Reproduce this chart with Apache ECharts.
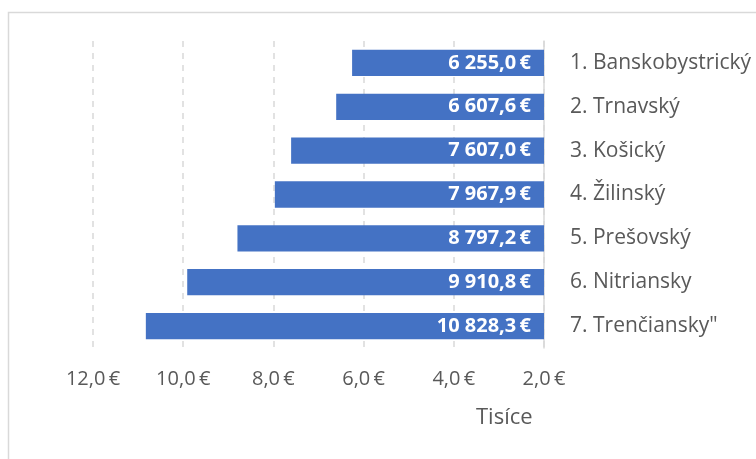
<!DOCTYPE html>
<html><head><meta charset="utf-8">
<script src="https://cdn.jsdelivr.net/npm/echarts@6/dist/echarts.min.js"></script>
<style>html,body{margin:0;padding:0;background:#fff}#c{width:756px;height:459px}</style>
</head><body><div id="c"></div>
<script>
const categories = ['1. Banskobystrický','2. Trnavský','3. Košický','4. Žilinský','5. Prešovský','6. Nitriansky','7. Trenčiansky"'];
const values = [6255.0, 6607.6, 7607.0, 7967.9, 8797.2, 9910.8, 10828.3];
const axisTicks = [2000, 4000, 6000, 8000, 10000, 12000];
const axisUnitLabel = 'Tisíce';

const FONT = '"Open Sans"';
function fmtThousands(v){ return (v/1000).toFixed(1).replace('.', ',') + '\u2009€'; }
function fmtValue(v){
  const parts = v.toFixed(1).split('.');
  const intPart = parts[0].replace(/\B(?=(\d{3})+(?!\d))/g, ' ');
  return intPart + ',' + parts[1] + '\u2009€';
}
const chart = echarts.init(document.getElementById('c'), null, {renderer:'canvas'});
chart.setOption({
  animation:false,
  backgroundColor:'#fff',
  grid:{left:93, right:212, top:41, bottom:111, containLabel:false},
  xAxis:{
    type:'value', inverse:true, min:axisTicks[0], max:axisTicks[axisTicks.length-1], interval:2000,
    axisLine:{show:false}, axisTick:{show:false},
    splitLine:{show:true, lineStyle:{color:'#d9d9d9', type:[6,6], width:1.5}},
    axisLabel:{color:'#595959', fontFamily:FONT, fontSize:20, margin:21, formatter:fmtThousands}
  },
  yAxis:{
    type:'category', data:categories, inverse:true, position:'right',
    axisLine:{show:true, lineStyle:{color:'#d9d9d9', width:1.5}}, axisTick:{show:false},
    axisLabel:{color:'#595959', fontFamily:FONT, fontSize:21, margin:26, align:'left'}
  },
  series:[{
    type:'bar', data:values, barWidth:'60%',
    itemStyle:{color:'#4472c4'},
    label:{show:true, position:'insideRight', distance:13, color:'#fff', fontWeight:'bold', fontFamily:FONT, fontSize:20, formatter:p=>fmtValue(p.value)}
  }],
  graphic:[
    {type:'rect', shape:{x:8.5, y:12.5, width:800, height:500}, style:{fill:'none', stroke:'#d9d9d9', lineWidth:1.5}, silent:true, z:-10},
    {type:'text', left:476, top:407, style:{text:axisUnitLabel, fill:'#595959', font:'22px '+FONT}}
  ]
});
</script></body></html>
